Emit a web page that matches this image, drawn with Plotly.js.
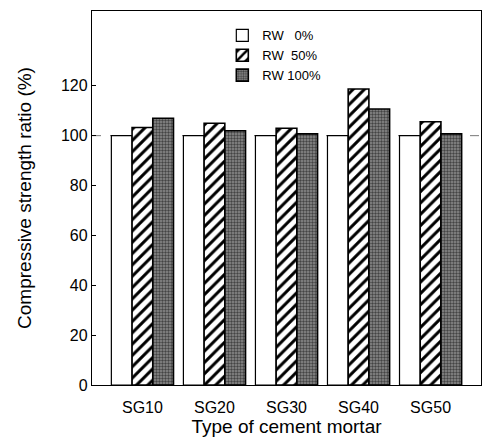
<!DOCTYPE html>
<html>
<head>
<meta charset="utf-8">
<script src="https://cdn.plot.ly/plotly-3.0.1.min.js"></script>
<style>html,body{margin:0;padding:0;background:#fff;}</style>
</head>
<body>
<div id="chart" style="width:489px;height:440px;"></div>
<script>
const categories = ["SG10", "SG20", "SG30", "SG40", "SG50"];
const seriesNames = ["RW\u00a0\u00a0\u00a00%", "RW\u00a0\u00a050%", "RW 100%"];
const rw0 = [100, 100, 100, 100, 100];
const rw50 = [103.3, 105, 103, 118.7, 105.6];
const rw100 = [107, 102, 100.7, 110.7, 100.7];
const yTicks = [0, 20, 40, 60, 80, 100, 120];

const font = "Liberation Sans, Arial, sans-serif";
const traces = [
  {type: "bar", name: seriesNames[0], x: categories, y: rw0,
   marker: {color: "#ffffff", line: {color: "#000", width: 1.2}}},
  {type: "bar", name: seriesNames[1], x: categories, y: rw50,
   marker: {color: "#ffffff", line: {color: "#000", width: 1.6},
            pattern: {shape: "/", fgcolor: "#000", bgcolor: "#fff", size: 8, solidity: 0.38}}},
  {type: "bar", name: seriesNames[2], x: categories, y: rw100,
   marker: {color: "#808080", line: {color: "#000", width: 1.6},
            pattern: {shape: ".", fgcolor: "#444", bgcolor: "#8e8e8e", size: 3, solidity: 0.5}}}
];

const layout = {
  width: 489, height: 440,
  margin: {l: 92, r: 8, t: 11, b: 55},
  paper_bgcolor: "#fff", plot_bgcolor: "#fff",
  font: {family: font, color: "#000", size: 16},
  barmode: "group", bargap: 0.1375, bargroupgap: 0,
  showlegend: true,
  legend: {x: 0.335, y: 0.975, xanchor: "left", yanchor: "top",
           font: {family: font, size: 13, color: "#000"},
           bgcolor: "rgba(0,0,0,0)", tracegroupgap: 0, traceorder: "normal"},
  xaxis: {
    type: "category", range: [-0.7, 4.7],
    showline: true, linecolor: "#000", linewidth: 1.2, mirror: true,
    ticks: "", showgrid: false, zeroline: false,
    ticklabelstandoff: 8,
    tickfont: {family: font, size: 16},
    title: {text: "Type of cement mortar", font: {family: font, size: 19}, standoff: 2}
  },
  yaxis: {
    range: [0, 150], tickvals: yTicks, ticktext: yTicks.map(String),
    showline: true, linecolor: "#000", linewidth: 1.2, mirror: true,
    ticks: "inside", ticklen: 4, tickcolor: "#000",
    showgrid: false, zeroline: false,
    tickfont: {family: font, size: 16},
    title: {text: "Compressive strength ratio (%)", font: {family: font, size: 19}, standoff: 24}
  },
  shapes: [
    {type: "line", xref: "paper", x0: 0, x1: 1, yref: "y", y0: 100, y1: 100,
     line: {color: "#777", width: 1, dash: "dash"}, layer: "below"}
  ]
};

Plotly.newPlot("chart", traces, layout, {displayModeBar: false, staticPlot: true});
</script>
</body>
</html>
